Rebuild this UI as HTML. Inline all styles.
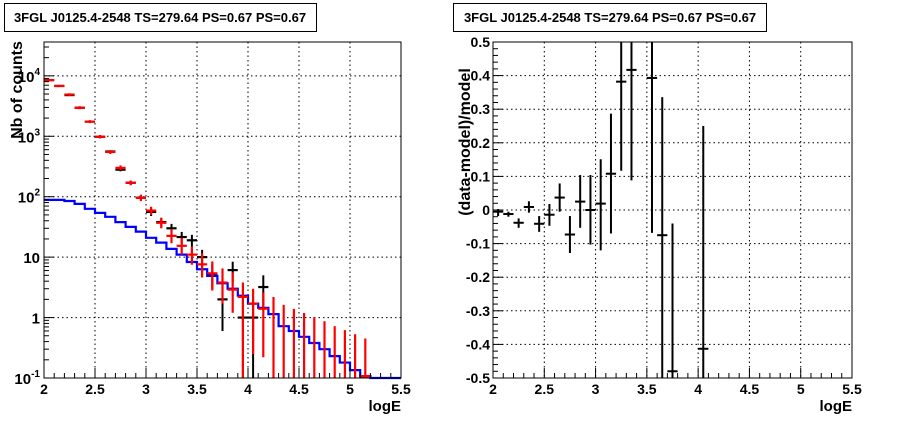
<!DOCTYPE html>
<html><head><meta charset="utf-8"><style>
body{margin:0;background:#fff;}
svg{display:block;font-family:"Liberation Sans",Arial,sans-serif;font-weight:bold;}
</style></head><body>
<svg id="c" width="898" height="421" viewBox="0 0 898 421" xmlns="http://www.w3.org/2000/svg">
<rect x="0" y="0" width="898" height="421" fill="#fff"/>
<g>
<rect x="4.5" y="3.5" width="312" height="28" fill="#fff" stroke="#000" stroke-width="1"/>
<text x="160" y="22" font-size="13" text-anchor="middle">3FGL J0125.4-2548 TS=279.64 PS=0.67 PS=0.67</text>
</g>
<g>
<rect x="453.5" y="3.5" width="313" height="28" fill="#fff" stroke="#000" stroke-width="1"/>
<text x="610" y="22" font-size="13" text-anchor="middle">3FGL J0125.4-2548 TS=279.64 PS=0.67 PS=0.67</text>
</g>
<g id="left"></g>
<g id="right"></g>
<text x="22" y="90" font-size="16" text-anchor="middle" transform="rotate(-90 22 90)">Nb of counts</text>
<text x="401" y="411" font-size="15" text-anchor="end">logE</text>
<text x="470" y="142" font-size="16" text-anchor="middle" transform="rotate(-90 470 142)">(data-model)/model</text>
<text x="852" y="411" font-size="15" text-anchor="end">logE</text>
</svg>
<script>
// bins: 35 bins of 0.1 in logE from 2.0 to 5.5
const binCenters = [2.05,2.15,2.25,2.35,2.45,2.55,2.65,2.75,2.85,2.95,3.05,3.15,3.25,3.35,3.45,3.55,3.65,3.75,3.85,3.95,4.05,4.15,4.25,4.35,4.45,4.55,4.65,4.75,4.85,4.95,5.05,5.15,5.25,5.35,5.45];
const modelCounts = [88.5,88.5,85,76,63,54,46.5,38,31.7,26.4,20.9,17.4,13.7,11,8.3,6.3,4.9,3.7,3.0,2.3,1.7,1.45,1.14,0.72,0.60,0.48,0.38,0.30,0.23,0.18,0.135,0.107,0.09,0.09,0.09];
const redValues = [8500,6800,4900,2960,1750,980,550,300,170,96,59,37,22.5,15.4,11,7.6,5.4,3.8,2.9,2.2,1.7,1.4,0,0,0,0,0,0,0,0,0,0.107,0,0,0];
const redHi = [8900,7100,5150,3150,1850,1050,590,330,185,108,68,45,29,21,15,11.5,8.5,6.5,5.6,3.8,3.0,2.6,2.19,1.62,1.39,1.19,1.02,0.87,0.72,0.62,0.53,0.45,0,0,0];
const redLo = [8100,6500,4650,2800,1650,920,510,275,155,85,50,30,17,11,7.5,4.6,2.8,1.7,1.2,0,0.25,0.22,0,0,0,0,0,0,0,0,0,0,0,0,0];
const dataValues = [8500,6800,4800,2960,1750,980,560,280,170,96,56,38,30,21.5,19,10,5.3,2.0,6.1,1,1,3.2,0,0,0,0,0,0,0,0,0,0,0,0,0];
const dataHi = [8600,6900,4900,3010,1790,1010,580,297,183,106,64,44,35.5,26.1,23.4,13.2,7.6,3.1,8.4,2,2,5.0,0,0,0,0,0,0,0,0,0,0,0,0,0];
const dataLo = [8400,6700,4700,2910,1710,950,540,263,157,86,48,32,24.5,16.9,14.6,6.8,3.0,0.6,3.8,0,0,1.4,0,0,0,0,0,0,0,0,0,0,0,0,0];
const resCenters = [2.05,2.15,2.25,2.35,2.45,2.55,2.65,2.75,2.85,2.95,3.05,3.15,3.25,3.35,3.55,3.65,3.75,4.05];
const resValues = [-0.005,-0.012,-0.038,0.009,-0.041,-0.014,0.037,-0.073,0.025,0.0,0.019,0.108,0.382,0.417,0.393,-0.075,-0.48,-0.413];
const resHi = [0.003,-0.005,-0.025,0.026,-0.018,0.018,0.079,-0.018,0.104,0.104,0.151,0.287,0.9,0.9,0.9,0.336,-0.04,0.25];
const resLo = [-0.018,-0.02,-0.053,-0.008,-0.065,-0.047,-0.005,-0.128,-0.053,-0.103,-0.12,-0.07,0.117,0.088,-0.068,-0.9,-0.9,-0.9];
const xTickLabels = ["2","2.5","3","3.5","4","4.5","5","5.5"];
const resTickLabels = ["-0.5","-0.4","-0.3","-0.2","-0.1","0","0.1","0.2","0.3","0.4","0.5"];
const logDecades = [-1,0,1,2,3,4];

const NS="http://www.w3.org/2000/svg";
function mk(parent,tag,attrs){const e=document.createElementNS(NS,tag);for(const k in attrs)e.setAttribute(k,attrs[k]);parent.appendChild(e);return e;}

// ---------- left panel ----------
const L={x0:44,x1:401,y0:42,y1:378};
const lx=v=>L.x0+(v-2)/3.5*(L.x1-L.x0);
const lMin=-1,lMax=4.56;
const ly=v=>{const lv=Math.log10(Math.max(v,1e-6));const c=Math.min(Math.max(lv,lMin),lMax);return L.y1-(c-lMin)/(lMax-lMin)*(L.y1-L.y0);};
const lg=document.getElementById('left');
// grid
for(let i=0;i<xTickLabels.length;i++){const v=parseFloat(xTickLabels[i]);if(v>2&&v<5.5){const g=mk(lg,'line',{x1:lx(v),x2:lx(v),y1:L.y0,y2:L.y1,stroke:'#000','stroke-dasharray':'1.5,3','stroke-width':1});

}}
logDecades.forEach(d=>{if(d>lMin){const g=mk(lg,'line',{x1:L.x0,x2:L.x1,y1:ly(Math.pow(10,d)),y2:ly(Math.pow(10,d)),stroke:'#000','stroke-dasharray':'1.5,3','stroke-width':1});

}});
// blue model step
let p='';for(let i=0;i<binCenters.length;i++){const a=lx(binCenters[i]-0.05),b=lx(binCenters[i]+0.05),y=ly(modelCounts[i]);p+=(i===0?'M':'L')+a+','+y+'L'+b+','+y;}
const blue=mk(lg,'path',{d:p,fill:'none',stroke:'#0000ff','stroke-width':2.2});


// black data
function drawPts(vals,hi,lo,color,name,w){for(let i=0;i<binCenters.length;i++){if(vals[i]<=0&&hi[i]<=0)continue;const g=mk(lg,'g',{});


const cx=lx(binCenters[i]);
if(hi[i]>0)mk(g,'line',{x1:cx,x2:cx,y1:ly(hi[i]),y2:ly(lo[i]>0?lo[i]:1e-6),stroke:color,'stroke-width':w});
if(vals[i]>0&&ly(vals[i])<L.y1)mk(g,'line',{x1:lx(binCenters[i]-0.05),x2:lx(binCenters[i]+0.05),y1:ly(vals[i]),y2:ly(vals[i]),stroke:color,'stroke-width':2.2});}}
drawPts(dataValues,dataHi,dataLo,'#000','data-point',2);
drawPts(redValues,redHi,redLo,'#ff0000','model-count-point',2.2);
// frame and ticks
const fr=mk(lg,'rect',{x:L.x0,y:L.y0,width:L.x1-L.x0,height:L.y1-L.y0,fill:'none',stroke:'#000','stroke-width':1});


for(let k=0;k<=35;k++){const v=2+k*0.1;const major=(k%5===0);mk(lg,'line',{x1:lx(v),x2:lx(v),y1:L.y1,y2:L.y1-(major?10:5),stroke:'#000','stroke-width':1});}
xTickLabels.forEach(t=>{const e=mk(lg,'text',{x:lx(parseFloat(t)),y:L.y1+16,'font-size':14,'text-anchor':'middle'});e.textContent=t;

});
logDecades.forEach(d=>{for(let m=1;m<10;m++){const v=m*Math.pow(10,d);const lv=Math.log10(v);if(lv<lMin||lv>lMax)continue;mk(lg,'line',{x1:L.x0,x2:L.x0+(m===1?10:5),y1:ly(v),y2:ly(v),stroke:'#000','stroke-width':1});}
const t=mk(lg,'text',{x:L.x0-4,y:ly(Math.pow(10,d))+6,'font-size':15,'text-anchor':'end'});


if(d===0)t.textContent='1';else if(d===1)t.textContent='10';else{t.textContent='10';const s=mk(t,'tspan',{dy:-7,'font-size':10});s.textContent=String(d);}});

// ---------- right panel ----------
const R={x0:493,x1:852,y0:42,y1:378};
const rx=v=>R.x0+(v-2)/3.5*(R.x1-R.x0);
const ry=v=>{const c=Math.min(Math.max(v,-0.5),0.5);return R.y1-(c+0.5)*(R.y1-R.y0);};
const rg=document.getElementById('right');
xTickLabels.forEach(t=>{const v=parseFloat(t);if(v>2&&v<5.5){const g=mk(rg,'line',{x1:rx(v),x2:rx(v),y1:R.y0,y2:R.y1,stroke:'#000','stroke-dasharray':'1.5,3','stroke-width':1});

}});
resTickLabels.forEach(t=>{const v=parseFloat(t);if(v>-0.5&&v<0.5){const g=mk(rg,'line',{x1:R.x0,x2:R.x1,y1:ry(v),y2:ry(v),stroke:'#000','stroke-dasharray':'1.5,3','stroke-width':1});

}});
for(let i=0;i<resCenters.length;i++){const g=mk(rg,'g',{});


const cx=rx(resCenters[i]);
mk(g,'line',{x1:cx,x2:cx,y1:ry(resHi[i]),y2:ry(resLo[i]),stroke:'#000','stroke-width':2});
mk(g,'line',{x1:rx(resCenters[i]-0.05),x2:rx(resCenters[i]+0.05),y1:ry(resValues[i]),y2:ry(resValues[i]),stroke:'#000','stroke-width':2});}
const fr2=mk(rg,'rect',{x:R.x0,y:R.y0,width:R.x1-R.x0,height:R.y1-R.y0,fill:'none',stroke:'#000','stroke-width':1});


for(let k=0;k<=35;k++){const v=2+k*0.1;const major=(k%5===0);mk(rg,'line',{x1:rx(v),x2:rx(v),y1:R.y1,y2:R.y1-(major?10:5),stroke:'#000','stroke-width':1});}
for(let k=0;k<=50;k++){const v=-0.5+k*0.02;const major=(k%5===0);mk(rg,'line',{x1:R.x0,x2:R.x0+(major?10:5),y1:ry(v),y2:ry(v),stroke:'#000','stroke-width':1});}
xTickLabels.forEach(t=>{const e=mk(rg,'text',{x:rx(parseFloat(t)),y:R.y1+16,'font-size':14,'text-anchor':'middle'});e.textContent=t;

});
resTickLabels.forEach(t=>{const e=mk(rg,'text',{x:R.x0-3,y:ry(parseFloat(t))+5,'font-size':14,'text-anchor':'end'});e.textContent=t;

});
</script>
</body></html>
